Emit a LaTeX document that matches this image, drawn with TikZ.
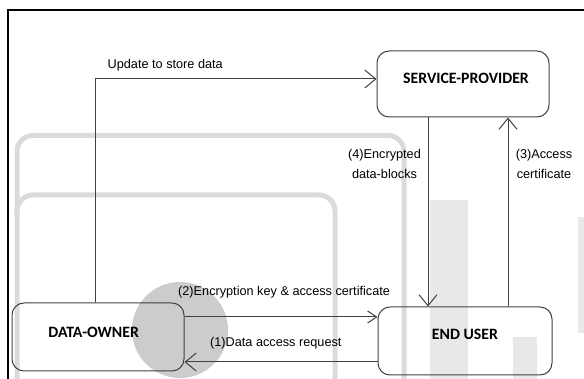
\documentclass[tikz,border=0pt]{standalone}
\usepackage{fontspec}
\setmainfont{Liberation Sans}
\newfontfamily\calib{Carlito}
\usetikzlibrary{arrows.meta}
\definecolor{ln}{gray}{0.25}
\definecolor{wmframe}{gray}{0.86}
\definecolor{wmband}{gray}{0.91}
\definecolor{wmcirc}{gray}{0.80}
\tikzset{
  box/.style={draw=ln, line width=1pt, rounded corners=12pt, rectangle, inner sep=0pt, minimum width=172pt, minimum height=67pt},
  title/.style={inner sep=0pt, font=\calib\bfseries\fontsize{15.8}{18}\selectfont},
  lbl/.style={inner sep=0pt, font=\fontsize{12.7}{20}\selectfont},
  arr/.style={draw=ln, line width=1pt, -{Straight Barb[length=11pt,width=18pt,line width=1pt]}},
  arrs/.style={draw=ln, line width=1pt, -{Straight Barb[length=9pt,width=12pt,line width=1pt]}},
  wmline/.style={draw=wmframe, line width=5pt, rounded corners=16pt},
}
\begin{document}
\begin{tikzpicture}[x=1pt,y=-1pt]
\useasboundingbox (0,0) rectangle (584,379);
% faint background marks
\fill[wmband] (430,200) rectangle (468,379);
\fill[wmband] (578,217) rectangle (584,333);
\fill[wmband] (513,337) rectangle (537,379);
\draw[wmline] (17,379) -- (17,135.5) -- (404,135.5) -- (404,379);
\draw[wmline] (17,215) |- (335,195) -- (335,379);
\fill[wmcirc] (180,330) circle (48);
% outer frame
\draw[line width=2pt] (8,379) -- (8,10.5) -- (584,10.5);
% boxes
\node[box, minimum width=172pt, minimum height=66pt] (SP) at (463,84) {};
\node[box, minimum width=174pt, minimum height=68pt] (EU) at (465,341) {};
\node[box, minimum width=172pt, minimum height=68pt] (DO) at (98,337) {};
\node[title] (SPt) at (466,78.5) {SERVICE-PROVIDER};
\node[title] (EUt) at (465,334) {END USER};
\node[title] (DOt) at (93.7,332) {DATA-OWNER};
% connector guides
\coordinate (upd) at (95,79);
\coordinate (c4) at (428,0);
\coordinate (c3) at (508,0);
\coordinate (c2) at (0,317);
\coordinate (c1) at (0,362);
% connectors
\draw[arr] (DO.north -| upd) |- (SP.west |- upd);
\draw[arr] (SP.south -| c4) -- (EU.north -| c4);
\draw[arr] (EU.north -| c3) -- (SP.south -| c3);
\draw[arrs] (DO.east |- c2) -- (EU.west |- c2);
\draw[arr] (EU.west |- c1) -- (DO.east |- c1);
% labels
\node[lbl, anchor=base west] (lu) at (107.5,69) {Update to store data};
\node[lbl, anchor=base west] (l2) at (178,296) {(2)Encryption key \& access certificate};
\node[lbl, anchor=base west] (l1) at (210,346.5) {(1)Data access request};
\node[lbl, align=center] (l4) at (384.5,164) {(4)Encrypted\\data-blocks};
\node[lbl, align=center] (l3) at (544,164) {(3)Access\\certificate};
\end{tikzpicture}
\end{document}
